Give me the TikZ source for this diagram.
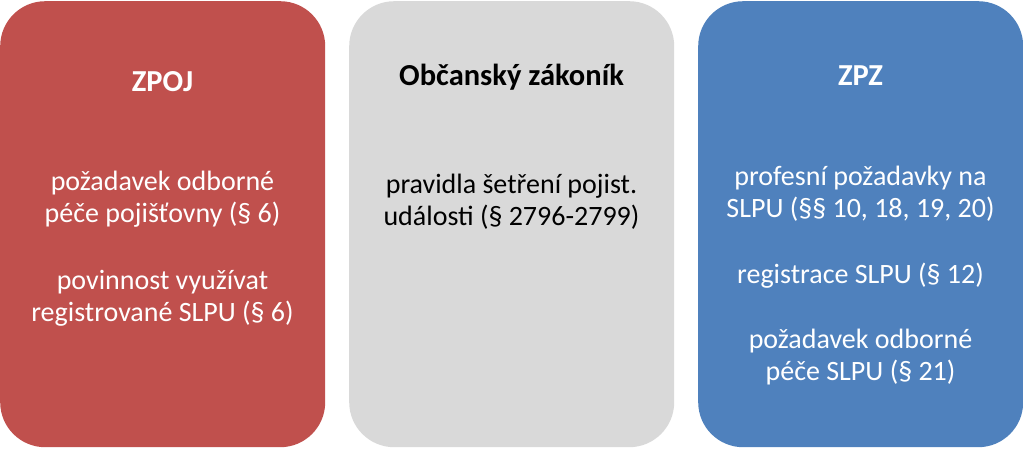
\documentclass[tikz,border=0pt]{standalone}
\usepackage{fontspec}
\setmainfont{Carlito}
\definecolor{zpojred}{HTML}{C0504D}
\definecolor{ozgray}{HTML}{D9D9D9}
\definecolor{zpzblue}{HTML}{4F81BD}
\begin{document}
\begin{tikzpicture}[x=1pt, y=-1pt, line join=round,
	panel/.style={rounded corners=45pt, inner sep=0pt, anchor=north west, minimum width=325pt, minimum height=446pt},
	title/.style={anchor=base, font=\fontsize{30.5}{36}\selectfont\bfseries},
	body/.style={anchor=base, align=center, font=\fontsize{28}{31.5}\selectfont}]
	\useasboundingbox (0,0) rectangle (1023,448);
	% three panels
	\node[panel, fill=zpojred] (zpoj) at (0,1) {};
	\node[panel, fill=ozgray] (oz) at (349,1) {};
	\node[panel, fill=zpzblue] (zpz) at (698,1) {};
	% ZPOJ (base = last line)
	\node[title, white] (zpojT) at (162.5,91) {ZPOJ};
	\node[body, white] (zpojA) at (162.5,222) {požadavek odborné\\péče pojišťovny (§ 6)};
	\node[body, white] (zpojB) at (162.5,321) {povinnost využívat\\registrované SLPU (§ 6)};
	% Obcansky zakonik
	\node[title, black] (ozT) at (511.5,85) {Občanský zákoník};
	\node[body, black] (ozA) at (511.5,225) {pravidla šetření pojist.\\události (§ 2796-2799)};
	% ZPZ
	\node[title, white] (zpzT) at (860.5,85) {ZPZ};
	\node[body, white] (zpzA) at (860.5,217) {profesní požadavky na\\SLPU (§§ 10, 18, 19, 20)};
	\node[body, white] (zpzB) at (860.5,283) {registrace SLPU (§ 12)};
	\node[body, white] (zpzC) at (860.5,380) {požadavek odborné\\péče SLPU (§ 21)};
\end{tikzpicture}
\end{document}
